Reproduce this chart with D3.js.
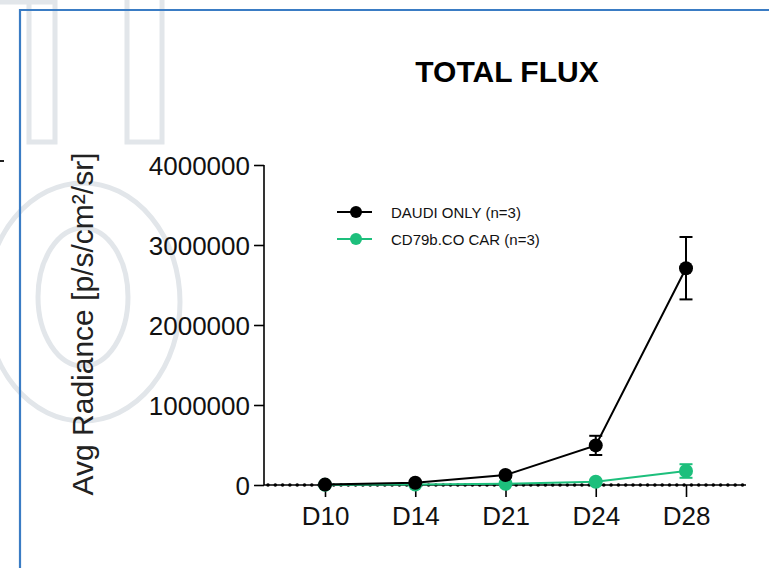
<!DOCTYPE html>
<html>
<head>
<meta charset="utf-8">
<script src="https://cdn.jsdelivr.net/npm/d3@7"></script>
<style>
  html, body { margin: 0; padding: 0; background: #fff; }
  svg { display: block; font-family: Arial, "Liberation Sans", Helvetica, sans-serif; }
</style>
</head>
<body>
<script>
// Time points and group means / SEM of total flux (p/s/cm²/sr)
const days = ["D10", "D14", "D21", "D24", "D28"];
const daudiMean = [5000, 28000, 125000, 495000, 2710000];
const daudiErr  = [0, 0, 0, 120000, 390000];
const carMean   = [2000, 5000, 15000, 40000, 175000];
const carErr    = [0, 0, 0, 0, 85000];
const yTicks = [0, 1000000, 2000000, 3000000, 4000000];
const seriesNames = ["DAUDI ONLY (n=3)", "CD79b.CO CAR (n=3)"];
const seriesColors = ["#000000", "#1dbf7c"];

const W = 769, H = 568;
const svg = d3.select("body").append("svg").attr("width", W).attr("height", H);

// faint logo watermark behind the page
const wm = svg.append("g").attr("fill", "none").attr("stroke", "#e2e6ea").attr("stroke-width", 5);
wm.append("path").attr("d", "M0,2H55V142H29V-10");
wm.append("rect").attr("x", 127).attr("y", -10).attr("width", 35).attr("height", 152);
wm.append("ellipse").attr("cx", 83).attr("cy", 302).attr("rx", 97).attr("ry", 119);
wm.append("ellipse").attr("cx", 83).attr("cy", 297).attr("rx", 45).attr("ry", 69);

// page frame lines
svg.append("line").attr("x1", 20).attr("x2", W).attr("y1", 10).attr("y2", 10)
  .attr("stroke", "#3a7cc4").attr("stroke-width", 2.2);
svg.append("line").attr("x1", 20).attr("x2", 20).attr("y1", 9).attr("y2", H)
  .attr("stroke", "#3a7cc4").attr("stroke-width", 2.2);
svg.append("line").attr("x1", 0).attr("x2", 4).attr("y1", 161).attr("y2", 161)
  .attr("stroke", "#222").attr("stroke-width", 2);

// scales
const x = d3.scalePoint().domain(days).range([325, 686]);
const y = d3.scaleLinear().domain([0, 4000000]).range([485, 165]);

// y axis
const yAxis = svg.append("g").attr("transform", "translate(264,0)")
  .call(d3.axisLeft(y).tickValues(yTicks).tickFormat(d3.format("d")).tickSize(10).tickPadding(4));
yAxis.select(".domain").attr("stroke", "#000").attr("stroke-width", 1.6).attr("d", "M0,165V485");
yAxis.selectAll(".tick line").attr("stroke", "#000").attr("stroke-width", 1.6);
yAxis.selectAll(".tick text").attr("font-size", 26).attr("fill", "#111").attr("dy", "0.36em");

// x axis
const xAxis = svg.append("g").attr("transform", "translate(0,485)")
  .call(d3.axisBottom(x).tickSize(12).tickPadding(10));
xAxis.select(".domain").remove();
xAxis.selectAll(".tick line").attr("stroke", "#000").attr("stroke-width", 1.6);
xAxis.selectAll(".tick text").attr("font-size", 26).attr("fill", "#111");
svg.append("line").attr("x1", 264).attr("x2", 746).attr("y1", y(0)).attr("y2", y(0))
  .attr("stroke", "#000").attr("stroke-width", 1.6);
// dotted zero line
const dots = d3.range(268, 744, 7.3);
svg.append("g").selectAll("circle").data(dots).join("circle")
  .attr("cx", d => d).attr("cy", y(0)).attr("r", 1.8).attr("fill", "#000");

// title and axis label
svg.append("text").attr("x", 507).attr("y", 82).attr("text-anchor", "middle")
  .attr("font-size", 30).attr("font-weight", "bold").attr("fill", "#000").text("TOTAL FLUX");
svg.append("text").attr("transform", "translate(93,324) rotate(-90)").attr("text-anchor", "middle")
  .attr("font-size", 30).attr("fill", "#222").text("Avg Radiance [p/s/cm²/sr]");

// series
const series = [
  { mean: carMean, err: carErr, color: seriesColors[1] },
  { mean: daudiMean, err: daudiErr, color: seriesColors[0] }
];
const line = d3.line().x((d, i) => x(days[i])).y(d => y(d));
series.forEach(s => {
  const g = svg.append("g");
  g.append("path").datum(s.mean).attr("d", line).attr("fill", "none")
    .attr("stroke", s.color).attr("stroke-width", 2);
  s.mean.forEach((m, i) => {
    if (s.err[i] > 0) {
      const cx = x(days[i]);
      const y1 = y(m + s.err[i]), y2 = y(m - s.err[i]);
      g.append("line").attr("x1", cx).attr("x2", cx).attr("y1", y1).attr("y2", y2)
        .attr("stroke", s.color).attr("stroke-width", 2);
      [y1, y2].forEach(yy => g.append("line").attr("x1", cx - 6.5).attr("x2", cx + 6.5)
        .attr("y1", yy).attr("y2", yy).attr("stroke", s.color).attr("stroke-width", 2));
    }
  });
  g.selectAll("circle").data(s.mean).join("circle")
    .attr("cx", (d, i) => x(days[i])).attr("cy", d => y(d)).attr("r", 7).attr("fill", s.color);
});

// legend
const leg = svg.append("g");
seriesNames.forEach((name, i) => {
  const ly = 212 + i * 27;
  leg.append("line").attr("x1", 337).attr("x2", 372).attr("y1", ly).attr("y2", ly)
    .attr("stroke", seriesColors[i]).attr("stroke-width", 2);
  leg.append("circle").attr("cx", 356).attr("cy", ly).attr("r", 6).attr("fill", seriesColors[i]);
  leg.append("text").attr("x", 391).attr("y", ly + 6).attr("font-size", 15).attr("fill", "#111").text(name);
});
</script>
</body>
</html>
